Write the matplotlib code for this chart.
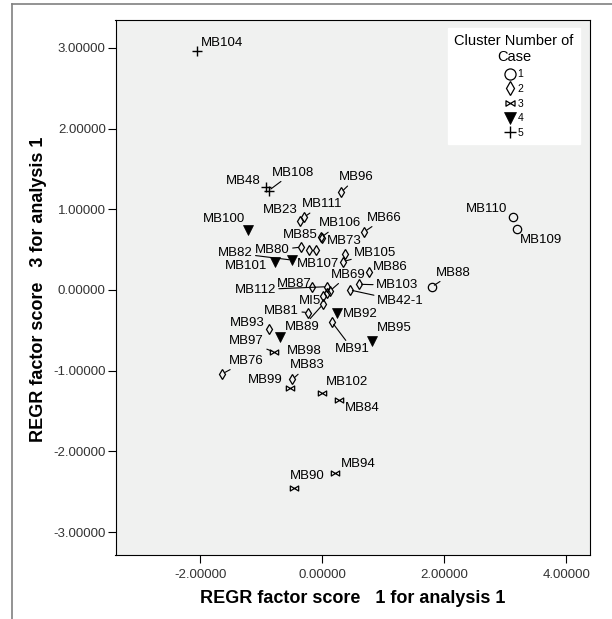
import matplotlib
matplotlib.use("Agg")
import matplotlib.pyplot as plt
from matplotlib.lines import Line2D
from matplotlib.path import Path

plt.rcParams["font.family"] = ["Liberation Sans", "DejaVu Sans"]

# ---------------------------------------------------------------------------
# Data (factor score 1 vs factor score 3)
# ---------------------------------------------------------------------------

CASE_NAMES = [
    "MB104", "MB48", "MB108",
    "MB96", "MB23", "MB111", "MB106", "MB73", "MB66", "MB80", "MB85", "MB107",
    "", "MB105", "MB86", "MB87", "MB112", "MB103", "MB42-1", "MI5", "",
    "MB69", "MB89", "MB81", "MB91", "MB93", "MB76", "MB83",
    "MB97", "MB99", "MB102", "MB84", "MB94", "MB90",
    "MB100", "MB101", "MB82", "MB92", "MB98", "MB95",
    "MB110", "MB109", "MB88",
]
SCORE_1 = [
    -2.05, -0.92, -0.88,
    0.31, -0.37, -0.30, -0.02, -0.01, 0.69, -0.35, -0.21, -0.11,
    0.38, 0.34, 0.77, -0.17, 0.08, 0.60, 0.45, 0.02, 0.07,
    0.13, 0.01, -0.23, 0.16, -0.87, -1.64, -0.49,
    -0.79, -0.53, -0.01, 0.28, 0.21, -0.46,
    -1.21, -0.78, -0.50, 0.24, -0.69, 0.81,
    3.13, 3.19, 1.80,
]
SCORE_3 = [
    2.96, 1.28, 1.23,
    1.21, 0.85, 0.90, 0.65, 0.64, 0.72, 0.53, 0.50, 0.49,
    0.44, 0.35, 0.22, 0.04, 0.04, 0.07, 0.00, -0.07, -0.04,
    -0.01, -0.18, -0.28, -0.40, -0.48, -1.04, -1.11,
    -0.77, -1.21, -1.28, -1.36, -2.27, -2.45,
    0.74, 0.34, 0.37, -0.28, -0.58, -0.63,
    0.90, 0.75, 0.04,
]
CLUSTER = [
    5, 5, 5,
    2, 2, 2, 2, 2, 2, 2, 2, 2,
    2, 2, 2, 2, 2, 2, 2, 2, 2,
    2, 2, 2, 2, 2, 2, 2,
    3, 3, 3, 3, 3, 3,
    4, 4, 4, 4, 4, 4,
    1, 1, 1,
]

CLUSTER_IDS = [1, 2, 3, 4, 5]
X_TICKS = [-2, 0, 2, 4]
Y_TICKS = [-3, -2, -1, 0, 1, 2, 3]

# label placement: pixel offset from the point, alignment, leader line
LABEL_OFFSETS = {
    "MB104": (4, 8, "left", False),
    "MB48": (-6, 6, "right", False),
    "MB108": (3, 18, "left", True),
    "MB96": (-2, 15, "left", True),
    "MB23": (-2, 11, "right", False),
    "MB111": (-2, 13, "left", True),
    "MB106": (-2, 14, "left", True),
    "MB73": (5, -3, "left", False),
    "MB66": (3, 14, "left", True),
    "MB80": (-11, -3, "right", True),
    "MB85": (-27, 15, "left", False),
    "MB107": (-19, -14, "left", False),
    "MB105": (11, 9, "left", True),
    "MB86": (4, 5, "left", False),
    "MB87": (-35, 3, "left", False),
    "MB112": (-51, -3, "right", True),
    "MB103": (17, -1, "left", True),
    "MB42-1": (27, -11, "left", True),
    "MI5": (-2, -5, "right", False),
    "MB69": (1, 16, "left", True),
    "MB89": (-38, -23, "left", True),
    "MB81": (-9, 2, "right", True),
    "MB91": (3, -27, "left", True),
    "MB93": (-5, 6, "right", False),
    "MB76": (7, 13, "left", True),
    "MB83": (-2, 14, "left", True),
    "MB97": (-10, 11, "right", True),
    "MB99": (-7, 8, "right", False),
    "MB102": (4, 11, "left", False),
    "MB84": (6, -8, "left", False),
    "MB94": (6, 9, "left", False),
    "MB90": (-4, 12, "left", False),
    "MB100": (-3, 11, "right", False),
    "MB101": (-7, -4, "right", False),
    "MB82": (-39, 7, "right", True),
    "MB92": (6, -1, "left", False),
    "MB98": (7, -14, "left", False),
    "MB95": (5, 13, "left", False),
    "MB110": (-6, 8, "right", False),
    "MB109": (3, -11, "left", False),
    "MB88": (4, 14, "left", True),
}

# SPSS style bow-tie marker for cluster 3
BOWTIE = Path([(-1, 0.6), (1, -0.6), (1, 0.6), (-1, -0.6), (-1, 0.6)],
              [Path.MOVETO, Path.LINETO, Path.LINETO, Path.LINETO, Path.CLOSEPOLY])

MARKERS = {
    1: dict(marker="o", markersize=6, mfc="none", mec="black", mew=0.9),
    2: dict(marker="d", markersize=5.5, mfc="none", mec="black", mew=0.9),
    3: dict(marker=BOWTIE, markersize=6, mfc="none", mec="black", mew=0.9),
    4: dict(marker="v", markersize=6.5, mfc="black", mec="black", mew=0.5),
    5: dict(marker="+", markersize=7, mec="black", mew=1.0),
}
LEGEND_SIZES = {1: 8, 2: 7, 3: 6.5, 4: 8, 5: 9}

fig = plt.figure(figsize=(6.12, 6.19), dpi=100)
ax = fig.add_axes([115.5 / 612, 1 - 555 / 619, 474.5 / 612, 535 / 619])
ax.set_facecolor("#f0f1f0")

for cid in CLUSTER_IDS:
    xs = [x for x, c in zip(SCORE_1, CLUSTER) if c == cid]
    ys = [y for y, c in zip(SCORE_3, CLUSTER) if c == cid]
    ax.plot(xs, ys, linestyle="none", zorder=3, **MARKERS[cid])

for name, x, y in zip(CASE_NAMES, SCORE_1, SCORE_3):
    if not name:
        continue
    dx, dy, ha, leader = LABEL_OFFSETS[name]
    arrow = dict(arrowstyle="-", color="black", lw=0.8, shrinkA=0, shrinkB=2) if leader else None
    ax.annotate(name, (x, y), xytext=(dx, dy), textcoords="offset pixels",
                ha=ha, va="center", fontsize=9.5, arrowprops=arrow, zorder=4)

ax.set_xlim(-3.39, 4.39)
ax.set_ylim(-3.285, 3.345)
ax.set_xticks(X_TICKS)
ax.set_yticks(Y_TICKS)
ax.set_xticklabels([f"{v:.5f}" for v in X_TICKS])
ax.set_yticklabels([f"{v:.5f}" for v in Y_TICKS])
ax.tick_params(axis="both", direction="out", length=6, width=0.8,
               labelsize=9.5, labelcolor="#333333")
ax.tick_params(axis="y", pad=1)
ax.tick_params(axis="x", pad=4)
for sp in ax.spines.values():
    sp.set_linewidth(0.8)

ax.set_xlabel("REGR factor score   1 for analysis 1", fontsize=13,
              fontweight="bold", va="center")
ax.xaxis.set_label_coords(0.5, -0.082)
ax.set_ylabel("REGR factor score   3 for analysis 1", fontsize=13,
              fontweight="bold", va="center")
ax.yaxis.set_label_coords(-0.162, 0.497)

handles = []
for c in CLUSTER_IDS:
    style = dict(MARKERS[c], markersize=LEGEND_SIZES[c])
    handles.append(Line2D([], [], linestyle="none", **style))
leg = ax.legend(handles, [str(c) for c in CLUSTER_IDS],
                title="Cluster Number of\nCase", loc="upper right",
                bbox_to_anchor=(0.979, 0.985), borderaxespad=0,
                frameon=True, fancybox=False, facecolor="white",
                edgecolor="white", framealpha=1, alignment="center",
                fontsize=7.5, title_fontsize=10.5, labelspacing=0.45,
                handlelength=1.0, handletextpad=0.2, borderpad=0.6)
leg.get_title().set_multialignment("center")

# grey frame lines of the original output window
fig.add_artist(Line2D([12 / 612, 1], [1 - 4 / 619, 1 - 4 / 619],
                      transform=fig.transFigure, color="#808080", lw=1.2))
fig.add_artist(Line2D([12 / 612, 12 / 612], [0, 1 - 4 / 619],
                      transform=fig.transFigure, color="#808080", lw=1.2))

fig.savefig("out.png", dpi=100)
